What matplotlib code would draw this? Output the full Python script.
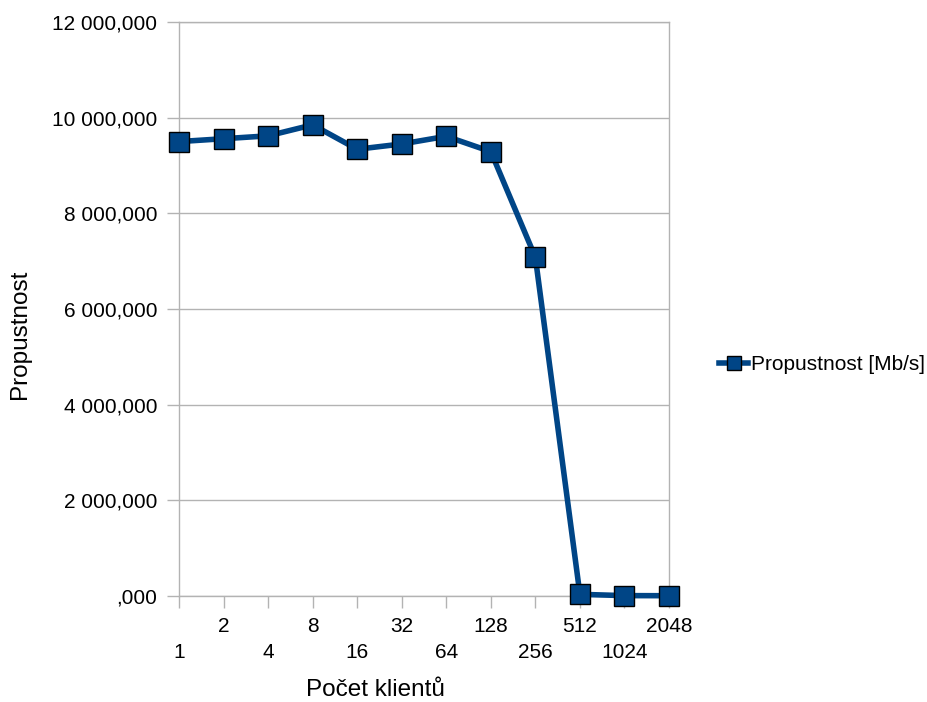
import matplotlib
matplotlib.use("Agg")
import matplotlib.pyplot as plt
from matplotlib.ticker import FuncFormatter, MultipleLocator
from matplotlib.lines import Line2D

plt.rcParams['font.family'] = ['Liberation Sans', 'DejaVu Sans']

categories = ["1", "2", "4", "8", "16", "32", "64", "128", "256", "512", "1024", "2048"]
throughput = [9500, 9560, 9620, 9850, 9340, 9450, 9610, 9290,
              7080, 35, 8, 6]
series_name = "Propustnost [Mb/s]"
color = "#004586"

fig = plt.figure(figsize=(9.28, 7.02), dpi=100)
ax = fig.add_axes([179/928, 1-596/702, (669-179)/928, (596-22)/702])

x = list(range(len(categories)))
ax.plot(x, throughput, color=color, lw=4.0, marker='s', markersize=14,
        markerfacecolor=color, markeredgecolor='black', markeredgewidth=1.0,
        solid_joinstyle='round', zorder=3, clip_on=False)

ax.set_xlim(0, len(categories) - 1)
ax.set_ylim(0, 12000)
ax.yaxis.set_major_locator(MultipleLocator(2000))

def yfmt(v, pos):
    iv = int(round(v))
    s = f"{iv:,}".replace(",", " ") if iv else ""
    return s + ",000"
ax.yaxis.set_major_formatter(FuncFormatter(yfmt))

ax.set_xticks(x)
ax.set_xticklabels([])
for i, c in enumerate(categories):
    off = -31 if i % 2 == 1 else -56
    ax.annotate(c, xy=(i, 0), xycoords=('data', 'axes fraction'),
                xytext=(0, off), textcoords='offset pixels',
                ha='center', va='center', fontsize=15)

ax.grid(True, axis='y', color='#b3b3b3', lw=1)
ax.set_axisbelow(True)
for s in ax.spines.values():
    s.set_color('#b3b3b3')
    s.set_linewidth(1)
ax.tick_params(axis='both', color='#b3b3b3', length=8.5, width=1, labelsize=15)
ax.tick_params(axis='y', pad=7)

fig.text(20/928, 1-334/702, "Propustnost", rotation=90, ha='center', va='center', fontsize=17.5)
fig.text(375/928, 1-690/702, "Počet klientů", ha='center', va='center', fontsize=17.5)

handle = Line2D([], [], color=color, lw=4.0, marker='s', markersize=10,
                markerfacecolor=color, markeredgecolor='black', markeredgewidth=1.0)
fig.legend([handle], [series_name], loc='center left',
           bbox_to_anchor=(719/928, 1-365/702), frameon=False, fontsize=15,
           handlelength=1.4, handletextpad=0.15, borderaxespad=0, borderpad=0)

fig.savefig("out.png", dpi=100)
